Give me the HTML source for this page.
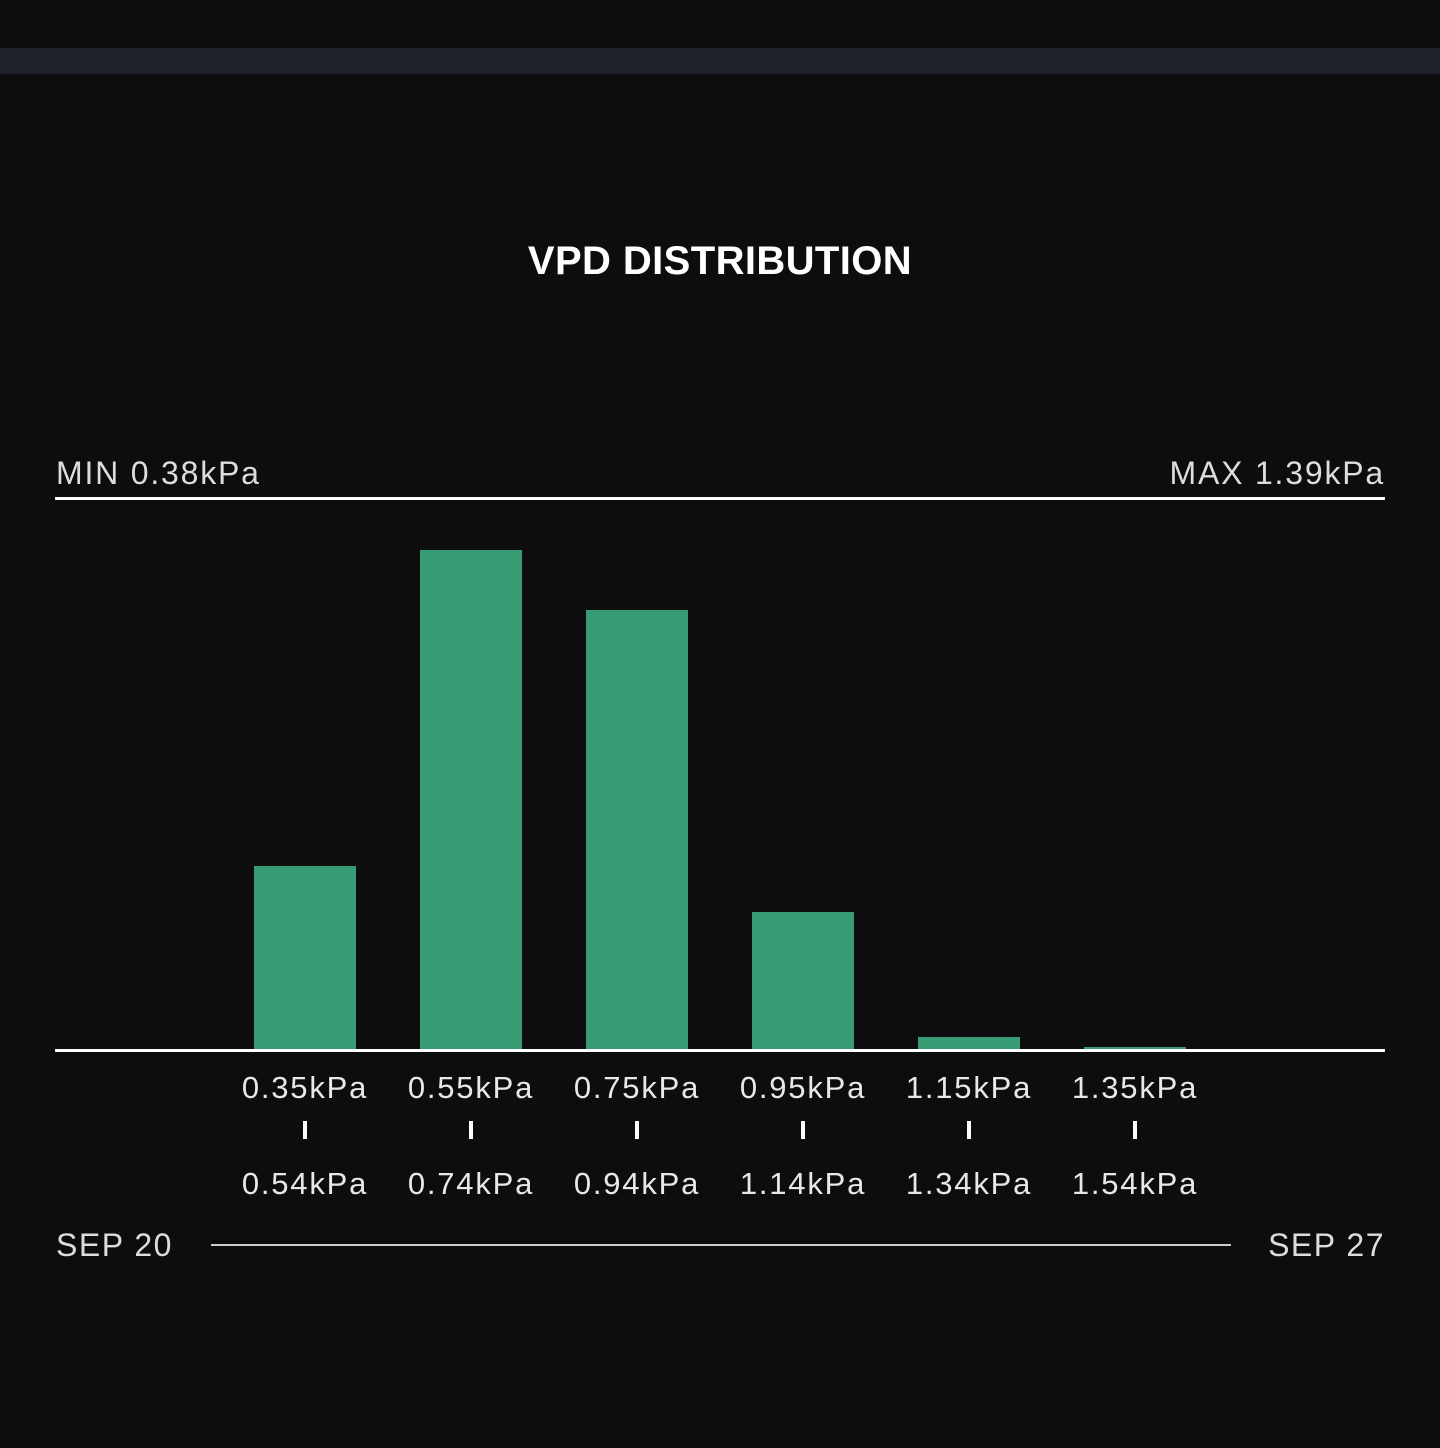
<!DOCTYPE html><html><head><style>
body{margin:0;width:1440px;height:1448px;background:#0d0d0d;position:relative;overflow:hidden;font-family:"Liberation Sans",sans-serif;color:#e6e6e6}
div{position:absolute}
.bar{background:#379b74;width:102px}
.l{font-size:31px;width:220px;text-align:center;color:#e8e8e8;letter-spacing:1.8px}
.t{width:4px;height:18px;background:#fff}
</style></head><body>
<div style="left:0;top:48px;width:1440px;height:26px;background:#1f222a"></div>
<div style="left:0;top:239px;width:1440px;text-align:center;font-size:40px;font-weight:bold;color:#fff;letter-spacing:0.4px">VPD DISTRIBUTION</div>
<div style="left:56px;top:455px;font-size:32px;color:#ddd;letter-spacing:1.8px">MIN 0.38kPa</div>
<div style="right:55px;top:455px;font-size:32px;color:#ddd;letter-spacing:1.8px">MAX 1.39kPa</div>
<div style="left:55px;top:497px;width:1330px;height:3px;background:#fff"></div>
<div class="bar" style="left:254px;top:866px;height:184px"></div>
<div class="bar" style="left:420px;top:550px;height:500px"></div>
<div class="bar" style="left:586px;top:610px;height:440px"></div>
<div class="bar" style="left:752px;top:912px;height:138px"></div>
<div class="bar" style="left:918px;top:1037px;height:13px"></div>
<div class="bar" style="left:1084px;top:1047px;height:3px"></div>
<div style="left:55px;top:1049px;width:1330px;height:3px;background:#fff"></div>
<div class="l" style="left:195px;top:1070px">0.35kPa</div><div class="t" style="left:303px;top:1121px"></div><div class="l" style="left:195px;top:1166px">0.54kPa</div>
<div class="l" style="left:361px;top:1070px">0.55kPa</div><div class="t" style="left:469px;top:1121px"></div><div class="l" style="left:361px;top:1166px">0.74kPa</div>
<div class="l" style="left:527px;top:1070px">0.75kPa</div><div class="t" style="left:635px;top:1121px"></div><div class="l" style="left:527px;top:1166px">0.94kPa</div>
<div class="l" style="left:693px;top:1070px">0.95kPa</div><div class="t" style="left:801px;top:1121px"></div><div class="l" style="left:693px;top:1166px">1.14kPa</div>
<div class="l" style="left:859px;top:1070px">1.15kPa</div><div class="t" style="left:967px;top:1121px"></div><div class="l" style="left:859px;top:1166px">1.34kPa</div>
<div class="l" style="left:1025px;top:1070px">1.35kPa</div><div class="t" style="left:1133px;top:1121px"></div><div class="l" style="left:1025px;top:1166px">1.54kPa</div>
<div style="left:56px;top:1227px;font-size:32px;color:#ddd;letter-spacing:1.5px">SEP 20</div>
<div style="right:55px;top:1227px;font-size:32px;color:#ddd;letter-spacing:1.5px">SEP 27</div>
<div style="left:211px;top:1244px;width:1020px;height:2px;background:#ccc"></div>
</body></html>
